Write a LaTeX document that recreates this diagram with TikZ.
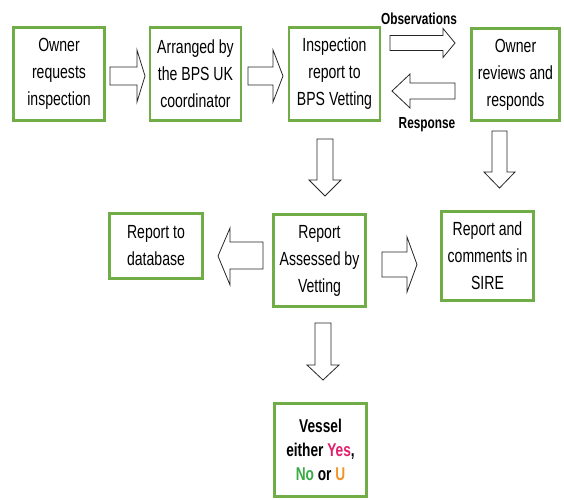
\documentclass[tikz,border=0pt]{standalone}
\usepackage{fontspec}
\setmainfont[FakeStretch=0.74]{Liberation Sans}
\definecolor{boxgreen}{RGB}{112,173,71}
\definecolor{yespink}{RGB}{226,30,110}
\definecolor{nogreen}{RGB}{60,170,70}
\definecolor{uorange}{RGB}{240,150,40}
\begin{document}
\begin{tikzpicture}[x=1pt,y=-1pt,
  box/.style={draw=boxgreen, line width=2.6pt, fill=white, align=center,
    inner sep=0pt, minimum width=91pt, minimum height=93pt,
    font=\fontsize{19}{27}\selectfont},
  lbl/.style={font=\fontsize{16}{18}\selectfont\bfseries, inner sep=0pt},
  blockarrow/.style={draw=black!85, line width=0.8pt, fill=white, line join=miter}]
\useasboundingbox (0,0) rectangle (564,499);

% boxes
\node[box] (owner) at (59,74) {Owner\\requests\\inspection};
\node[box] (arr) at (195.5,74) {Arranged by\\the BPS UK\\coordinator};
\node[box] (insp) at (334.5,74) {Inspection\\report to\\BPS Vetting};
\node[box, minimum width=88pt, minimum height=92pt] (rev) at (515.5,74.5) {Owner\\reviews and\\responds};
\node[box, minimum width=93pt, minimum height=65pt] (db) at (156,246) {Report to\\database};
\node[box, minimum width=92pt, minimum height=92pt] (ass) at (319.5,260.5) {Report\\Assessed by\\Vetting};
\node[box, minimum width=92pt, minimum height=89pt] (sire) at (487.5,256) {Report and\\comments in\\SIRE};
\node[box, minimum width=92pt, minimum height=93pt, font=\fontsize{18.5}{24}\selectfont\bfseries] (ves) at (320.5,450)
  {Vessel\\either \textcolor{yespink}{Yes},\\\textcolor{nogreen}{No} or \textcolor{uorange}{U}};

% labels
\node[lbl] (obs) at (419,19) {Observations};
\node[lbl] (resp) at (427,125) {Response};

% right-pointing block arrows
\draw[blockarrow] (110,67) -- (137,67) -- (137,50) -- (145,76) -- (137,102) -- (137,85) -- (110,85) -- cycle;
\draw[blockarrow] (248,67) -- (273,67) -- (273,50) -- (283,76) -- (273,102) -- (273,85) -- (248,85) -- cycle;
\draw[blockarrow] (390,35.5) -- (443,35.5) -- (443,28.5) -- (455,43) -- (443,57.5) -- (443,50.5) -- (390,50.5) -- cycle;
\draw[blockarrow] (382,252) -- (407,252) -- (407,237) -- (417,264.5) -- (407,292) -- (407,277) -- (382,277) -- cycle;
% left-pointing block arrows
\draw[blockarrow] (455,83) -- (410,83) -- (410,74) -- (392,91) -- (410,108) -- (410,99) -- (455,99) -- cycle;
\draw[blockarrow] (263,242) -- (230,242) -- (230,228) -- (218,256) -- (230,285) -- (230,269) -- (263,269) -- cycle;
% down-pointing block arrows
\draw[blockarrow] (317,139) -- (317,180) -- (309,180) -- (325,196) -- (341,180) -- (333,180) -- (333,139) -- cycle;
\draw[blockarrow] (492,131) -- (492,172) -- (484,172) -- (499.5,188) -- (515,172) -- (507,172) -- (507,131) -- cycle;
\draw[blockarrow] (315,323) -- (315,365) -- (307,365) -- (323,380) -- (339,365) -- (331,365) -- (331,323) -- cycle;
\end{tikzpicture}
\end{document}
